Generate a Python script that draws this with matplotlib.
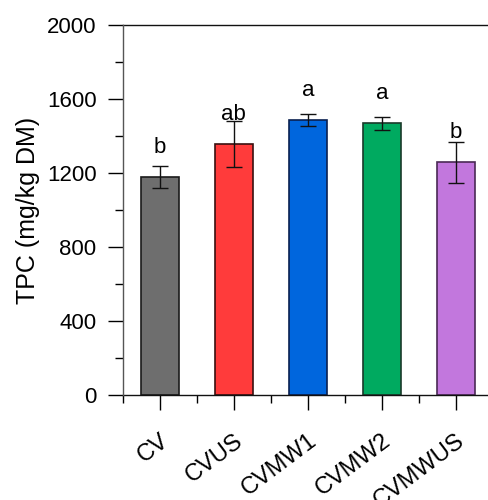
import matplotlib
matplotlib.use("Agg")
import matplotlib.pyplot as plt
from matplotlib.ticker import MultipleLocator, FixedLocator
import numpy as np

plt.rcParams['font.family'] = ['Liberation Sans', 'DejaVu Sans']

groups = ["CV", "CVUS", "CVMW1", "CVMW2", "CVMWUS"]
tpc = [1178, 1355, 1486, 1468, 1257]
err = [60, 125, 32, 33, 112]
letters = ["b", "ab", "a", "a", "b"]
colors = ["#6e6e6e", "#ff3b3b", "#0066dd", "#00aa60", "#c277dd"]
edges = ["#1a1a1a", "#3a1010", "#0a2050", "#1a3a2a", "#4a2a55"]
letter_gap = 130


def draw():
    fig = plt.figure(figsize=(4.89, 5.0), dpi=100)
    ax = fig.add_axes([0.2515, 0.21, 0.7485, 0.74])
    x = np.arange(len(groups))
    ax.bar(x, tpc, width=0.51, color=colors, edgecolor=edges, linewidth=1.2, zorder=2)
    ax.errorbar(x, tpc, yerr=err, fmt='none', ecolor='#111111', elinewidth=1,
                capsize=6, capthick=1, zorder=3)
    for xi, v, t in zip(x, tpc, letters):
        ax.text(xi, v + letter_gap, t, ha='center', va='baseline', fontsize=16)

    ax.set_xlim(-0.5, 4.45)
    ax.set_ylim(0, 2000)
    ax.yaxis.set_major_locator(MultipleLocator(400))
    ax.yaxis.set_minor_locator(MultipleLocator(200))
    ax.set_xticks(x)
    ax.set_xticklabels(groups, rotation=37, ha='right', va='top',
                       rotation_mode='anchor', fontsize=17)
    ax.xaxis.set_minor_locator(FixedLocator(np.arange(-0.5, 5, 1)))
    ax.tick_params(axis='both', which='major', length=11, width=1, labelsize=16)
    ax.tick_params(axis='x', which='major', labelsize=17, pad=14)
    ax.tick_params(axis='y', which='major', pad=8)
    ax.tick_params(axis='both', which='minor', length=5.5, width=1)
    ax.set_ylabel("TPC (mg/kg DM)", fontsize=18, labelpad=5)
    ax.spines['right'].set_visible(False)
    for s in ['left', 'top', 'bottom']:
        ax.spines[s].set_linewidth(1)
        ax.spines[s].set_color('#111111')
    ax.spines['left'].set_color('#555555')
    ax.spines['left'].set_zorder(4)
    fig.savefig("out.png", dpi=100)


def main():
    draw()


if __name__ == "__main__":
    main()
